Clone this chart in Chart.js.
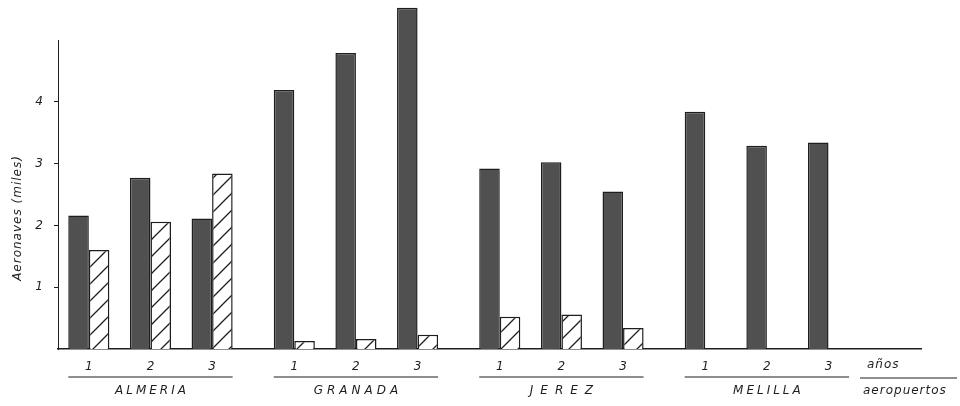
<!DOCTYPE html>
<html>
<head>
<meta charset="utf-8">
<script src="https://cdn.jsdelivr.net/npm/chart.js@4.4.1/dist/chart.umd.min.js"></script>
<style>
  html, body { margin: 0; padding: 0; background: #fff; }
</style>
</head>
<body>
<canvas id="chart" width="960" height="406"></canvas>
<script>
// Data (thousands of aircraft per airport and year)
const airports = ['ALMERIA', 'GRANADA', 'JEREZ', 'MELILLA'];
const years = ['1', '2', '3'];
const darkValues = [2.16, 2.77, 2.11, 4.19, 4.79, 5.52, 2.92, 3.02, 2.55, 3.84, 3.29, 3.34];
const hatchedValues = [1.60, 2.06, 2.84, 0.13, 0.16, 0.23, 0.52, 0.56, 0.34, null, null, null];
const yTicks = [1, 2, 3, 4];

const ink = '#1e1e1e';
const font = '"DejaVu Sans", sans-serif';
// the typewriter spacing of the airport names differs a bit in the scan
const nameSpacing = [3, 4, 7, 3];

// slots on the category axis: years 3 apart, airports 10 apart, one blank in front
const lead = 1, yearStep = 3, groupStep = 10, slotCount = 42;
function slotOf(a, y) { return lead + a * groupStep + y * yearStep; }

const labels = new Array(slotCount).fill('');
const darkData = new Array(slotCount).fill(null);
const hatchedData = new Array(slotCount).fill(null);
airports.forEach((name, a) => {
    years.forEach((yr, y) => {
        const s = slotOf(a, y);
        labels[s] = yr;
        darkData[s] = darkValues[a * years.length + y];
        hatchedData[s] = hatchedValues[a * years.length + y];
    });
});

// diagonal hatch like the scan
function hatchPattern() {
    const n = 17;
    const c = document.createElement('canvas');
    c.width = n; c.height = n;
    const g = c.getContext('2d');
    g.fillStyle = '#fff';
    g.fillRect(0, 0, n, n);
    g.strokeStyle = ink;
    g.lineWidth = 1.3;
    g.beginPath();
    g.moveTo(0, n); g.lineTo(n, 0);
    g.moveTo(-4, 4); g.lineTo(4, -4);
    g.moveTo(n - 4, n + 4); g.lineTo(n + 4, n - 4);
    g.stroke();
    return g.createPattern(c, 'repeat');
}

// group underlines, airport names, axis captions
const groupLabels = {
    id: 'groupLabels',
    afterDraw(chart) {
        const ctx = chart.ctx;
        const x = chart.scales.x;
        const area = chart.chartArea;
        const slotW = x.getPixelForValue(1) - x.getPixelForValue(0);
        ctx.save();
        ctx.fillStyle = ink;
        ctx.strokeStyle = ink;
        ctx.lineWidth = 1.2;
        ctx.font = 'italic 12px ' + font;
        ctx.textAlign = 'center';
        ctx.textBaseline = 'middle';
        airports.forEach((name, a) => {
            const x0 = x.getPixelForValue(slotOf(a, 0)) - slotW;
            const x1 = x.getPixelForValue(slotOf(a, years.length - 1)) + slotW;
            ctx.beginPath();
            ctx.moveTo(x0, 377);
            ctx.lineTo(x1, 377);
            ctx.stroke();
            ctx.letterSpacing = nameSpacing[a] + 'px';
            ctx.fillText(name, (x0 + x1) / 2 + nameSpacing[a] / 2, 391);
        });

        // right-hand key
        ctx.letterSpacing = '1px';
        ctx.textAlign = 'left';
        ctx.fillText('años', area.right - 54, 365);
        ctx.beginPath();
        ctx.moveTo(area.right - 61, 378);
        ctx.lineTo(area.right + 36, 378);
        ctx.stroke();
        ctx.fillText('aeropuertos', area.right - 58, 391);

        // y axis caption
        ctx.translate(18, 218);
        ctx.rotate(-Math.PI / 2);
        ctx.textAlign = 'center';
        ctx.fillText('Aeronaves (miles)', 0, 0);
        ctx.restore();
    }
};

new Chart(document.getElementById('chart'), {
    type: 'bar',
    data: {
        labels: labels,
        datasets: [{
            label: 'Aeronaves',
            data: darkData,
            backgroundColor: '#505050',
            borderColor: ink,
            borderWidth: 1.5,
            clip: false
        }, {
            label: 'Aeronaves (rayado)',
            data: hatchedData,
            backgroundColor: hatchPattern(),
            borderColor: ink,
            borderWidth: 1.5,
            clip: false
        }]
    },
    options: {
        responsive: false,
        animation: false,
        categoryPercentage: 2,
        barPercentage: 1,
        layout: { padding: { top: 40, right: 39, left: 0, bottom: 0 } },
        plugins: {
            legend: { display: false },
            tooltip: { enabled: false }
        },
        scales: {
            x: {
                grid: { display: false, drawTicks: false },
                border: { display: true, color: ink, width: 1.5 },
                ticks: {
                    autoSkip: false,
                    maxRotation: 0,
                    padding: 11,
                    color: ink,
                    font: { family: font, size: 12, style: 'italic' }
                },
                afterFit(scale) { scale.height = 57; }
            },
            y: {
                min: 0,
                max: 5,
                grid: { drawOnChartArea: false, drawTicks: true, tickLength: 4, color: ink },
                border: { display: true, color: ink, width: 1 },
                ticks: {
                    padding: 11,
                    color: ink,
                    font: { family: font, size: 12, style: 'italic' }
                },
                afterBuildTicks(scale) { scale.ticks = yTicks.map(v => ({ value: v })); },
                afterFit(scale) { scale.width = 58; }
            }
        }
    },
    plugins: [groupLabels]
});
</script>
</body>
</html>
